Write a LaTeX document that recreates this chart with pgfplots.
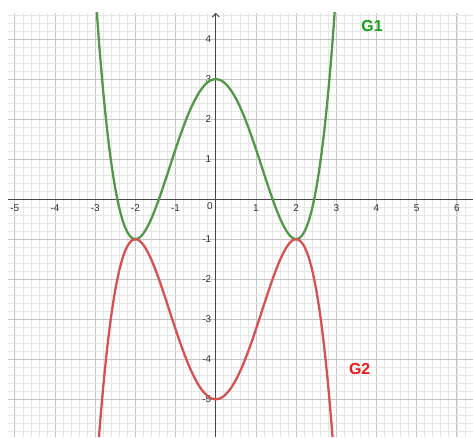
\documentclass[border=0pt]{standalone}
\usepackage{pgfplots}
\pgfplotsset{compat=1.18}
\usepackage{pgfplotstable}
\usepackage{fontspec}
\setmainfont{Liberation Sans}
\usetikzlibrary{arrows.meta}

\definecolor{gonecurve}{RGB}{82,152,72}
\definecolor{gonetext}{RGB}{24,158,24}
\definecolor{gtwocurve}{RGB}{214,82,82}
\definecolor{gtwotext}{RGB}{240,24,24}
\definecolor{majgrid}{RGB}{196,196,196}
\definecolor{mingrid}{RGB}{230,230,230}
\definecolor{axcol}{RGB}{70,70,70}

% G1(x) and G2(x) sampled every 0.1
\pgfplotstableread{
x     g1      g2
-3.0  5.250  -7.250
-2.9  3.862  -5.862
-2.8  2.686  -4.686
-2.7  1.706  -3.706
-2.6  0.904  -2.904
-2.5  0.266  -2.266
-2.4 -0.226  -1.774
-2.3 -0.584  -1.416
-2.2 -0.824  -1.176
-2.1 -0.958  -1.042
-2.0 -1.000  -1.000
-1.9 -0.962  -1.038
-1.8 -0.856  -1.144
-1.7 -0.692  -1.308
-1.6 -0.482  -1.518
-1.5 -0.234  -1.766
-1.4  0.040  -2.040
-1.3  0.334  -2.334
-1.2  0.638  -2.638
-1.1  0.946  -2.946
-1.0  1.250  -3.250
-0.9  1.544  -3.544
-0.8  1.822  -3.822
-0.7  2.080  -4.080
-0.6  2.312  -4.312
-0.5  2.516  -4.516
-0.4  2.686  -4.686
-0.3  2.822  -4.822
-0.2  2.920  -4.920
-0.1  2.980  -4.980
 0.0  3.000  -5.000
 0.1  2.980  -4.980
 0.2  2.920  -4.920
 0.3  2.822  -4.822
 0.4  2.686  -4.686
 0.5  2.516  -4.516
 0.6  2.312  -4.312
 0.7  2.080  -4.080
 0.8  1.822  -3.822
 0.9  1.544  -3.544
 1.0  1.250  -3.250
 1.1  0.946  -2.946
 1.2  0.638  -2.638
 1.3  0.334  -2.334
 1.4  0.040  -2.040
 1.5 -0.234  -1.766
 1.6 -0.482  -1.518
 1.7 -0.692  -1.308
 1.8 -0.856  -1.144
 1.9 -0.962  -1.038
 2.0 -1.000  -1.000
 2.1 -0.958  -1.042
 2.2 -0.824  -1.176
 2.3 -0.584  -1.416
 2.4 -0.226  -1.774
 2.5  0.266  -2.266
 2.6  0.904  -2.904
 2.7  1.706  -3.706
 2.8  2.686  -4.686
 2.9  3.862  -5.862
 3.0  5.250  -7.250
}\curves

\begin{document}
\begin{tikzpicture}
\begin{axis}[
  scale only axis,
  width=465bp, height=424bp,
  xmin=-5.17, xmax=6.39,
  ymin=-5.93, ymax=4.65,
  axis lines=middle,
  x axis line style={-, draw=axcol, line width=0.9bp},
  y axis line style={-{Straight Barb[length=3.5bp,width=7bp]}, draw=axcol, line width=0.9bp},
  xtick={-5,-4,-3,-2,-1,1,2,3,4,5,6},
  ytick={-5,-4,-3,-2,-1,1,2,3,4},
  minor xtick={-5.2,-5,-4.8,-4.6,-4.4,-4.2,-4,-3.8,-3.6,-3.4,-3.2,-3,-2.8,-2.6,-2.4,-2.2,-2,-1.8,-1.6,-1.4,-1.2,-1,-0.8,-0.6,-0.4,-0.2,0.2,0.4,0.6,0.8,1,1.2,1.4,1.6,1.8,2,2.2,2.4,2.6,2.8,3,3.2,3.4,3.6,3.8,4,4.2,4.4,4.6,4.8,5,5.2,5.4,5.6,5.8,6,6.2},
  minor ytick={-5.8,-5.6,-5.4,-5.2,-5,-4.8,-4.6,-4.4,-4.2,-4,-3.8,-3.6,-3.4,-3.2,-3,-2.8,-2.6,-2.4,-2.2,-2,-1.8,-1.6,-1.4,-1.2,-1,-0.8,-0.6,-0.4,-0.2,0.2,0.4,0.6,0.8,1,1.2,1.4,1.6,1.8,2,2.2,2.4,2.6,2.8,3,3.2,3.4,3.6,3.8,4,4.2,4.4,4.6},
  grid=both,
  major grid style={draw=majgrid, line width=0.8bp},
  minor grid style={draw=mingrid, line width=0.7bp},
  major tick length=0pt, minor tick length=0pt,
  /pgf/number format/assume math mode=true,
  tick label style={font=\fontsize{10}{12}\selectfont, text=black!80},
  xticklabel style={yshift=-2bp},
  yticklabel style={xshift=-1bp},
  clip=true,
]
\addplot[gonecurve, line width=2.3bp, smooth] table[x=x, y=g1] {\curves};
\addplot[gtwocurve, line width=2.3bp, smooth] table[x=x, y=g2] {\curves};
\node[anchor=north east, font=\fontsize{10}{12}\selectfont, text=black!80, inner sep=3bp] at (axis cs:0,0) {0};
\node[font=\fontsize{16}{16}\selectfont\bfseries, text=gonetext] at (axis cs:3.89,4.32) {G1};
\node[font=\fontsize{16}{16}\selectfont\bfseries, text=gtwotext] at (axis cs:3.58,-4.24) {G2};
\end{axis}
\path ([xshift=-8bp]current axis.south west) rectangle ([yshift=13bp]current axis.north east);
\end{tikzpicture}
\end{document}
